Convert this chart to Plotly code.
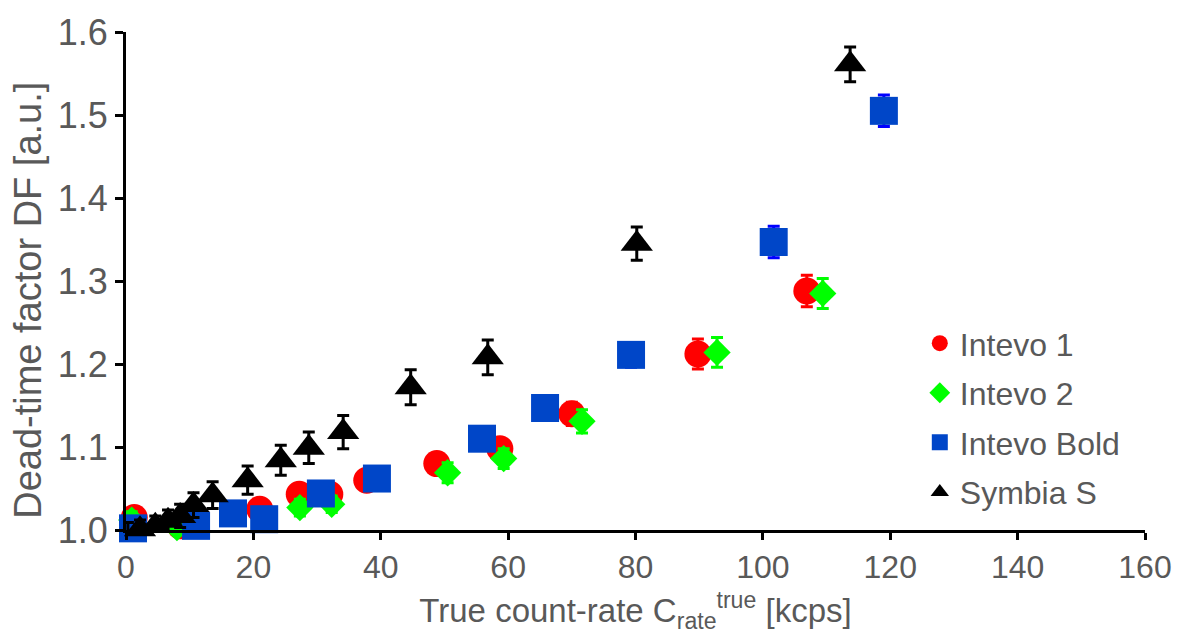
import plotly.graph_objects as go

# Data
intevo1_x = [1.3, 1.8, 8.5, 21.0, 27.2, 32.0, 37.8, 48.8, 58.7, 70.0, 89.8, 106.9]
intevo1_y = [1.015, 0.999, 1.005, 1.025, 1.043, 1.043, 1.060, 1.080, 1.098, 1.140, 1.212, 1.288]
intevo1_err = [0.010, 0.010, 0.010, 0.010, 0.010, 0.010, 0.010, 0.012, 0.012, 0.014, 0.018, 0.019]

intevo2_x = [0.9, 8.0, 27.3, 32.3, 50.5, 59.3, 71.6, 92.8, 109.4]
intevo2_y = [1.012, 1.003, 1.027, 1.031, 1.069, 1.086, 1.131, 1.214, 1.285]
intevo2_err = [0.010, 0.010, 0.010, 0.010, 0.012, 0.012, 0.014, 0.018, 0.018]

bold_x = [1.1, 5.6, 11.0, 16.8, 21.7, 30.6, 39.4, 55.9, 65.8, 79.3, 101.7, 119.0]
bold_y = [1.002, 0.999, 1.005, 1.020, 1.013, 1.044, 1.062, 1.110, 1.147, 1.211, 1.347, 1.505]
bold_err = [0.010, 0.010, 0.010, 0.010, 0.010, 0.012, 0.012, 0.012, 0.014, 0.015, 0.019, 0.019]

symbia_x = [0.3, 2.2, 4.6, 6.6, 8.5, 10.6, 13.6, 19.1, 24.3, 28.7, 34.1, 44.7, 56.8, 80.2, 113.7]
symbia_y = [0.998, 1.001, 1.005, 1.011, 1.017, 1.030, 1.042, 1.060, 1.084, 1.099, 1.118, 1.172, 1.208, 1.345, 1.561]
symbia_err = [0.011, 0.011, 0.012, 0.013, 0.014, 0.015, 0.016, 0.017, 0.018, 0.019, 0.020, 0.021, 0.021, 0.020, 0.021]

x_ticks = [0, 20, 40, 60, 80, 100, 120, 140, 160]
y_ticks = [1.0, 1.1, 1.2, 1.3, 1.4, 1.5, 1.6]

NORMAL = "Liberation Sans, Arial, sans-serif"
GRAY = "#595959"

fig = go.Figure()

def add(name, xs, ys, errs, color, ecolor, symbol, size):
    fig.add_trace(go.Scatter(
        x=xs, y=ys, name=name, mode="markers", cliponaxis=False,
        legendgroup=name,
        marker=dict(color=color, symbol=symbol, size=size, line=dict(width=0)),
        error_y=dict(type="data", array=errs, visible=True, color=ecolor,
                     thickness=3, width=6),
    ))

add("Intevo 1", intevo1_x, intevo1_y, intevo1_err, "#FF0000", "#FF0000", "circle", 27)
add("Intevo 2", intevo2_x, intevo2_y, intevo2_err, "#00FF00", "#00FF00", "diamond", 21)
add("Intevo Bold", bold_x, bold_y, bold_err, "#0046C8", "#0000FF", "square", 28)
add("Symbia S", symbia_x, symbia_y, symbia_err, "#000000", "#000000", "triangle-up", 28)

fig.update_layout(
    width=1184, height=639,
    margin=dict(l=126, r=38, t=22, b=109),
    paper_bgcolor="white", plot_bgcolor="white",
    showlegend=True,
    legend=dict(x=0.779, y=0.43, xanchor="left", yanchor="top",
                font=dict(family=NORMAL, size=32, color=GRAY),
                bgcolor="rgba(0,0,0,0)", itemwidth=30, tracegroupgap=5),
    annotations=[dict(
        text="Dead-time factor DF [a.u.]", textangle=-90,
        xref="paper", yref="paper", x=-0.097, y=0.4606,
        xanchor="center", yanchor="middle", showarrow=False,
        font=dict(family=NORMAL, size=38, color=GRAY),
    )],
)

fig.update_xaxes(
    range=[0, 160], tickvals=x_ticks, ticktext=[str(v) for v in x_ticks],
    showgrid=False, zeroline=False,
    showline=True, linecolor="black", linewidth=3,
    ticks="outside", ticklen=7, tickwidth=3, tickcolor="black",
    tickfont=dict(family=NORMAL, size=32, color=GRAY),
    title=dict(text="True count-rate C<sub>rate</sub><sup>true</sup> [kcps]",
               font=dict(family=NORMAL, size=33, color=GRAY), standoff=15),
)
fig.update_yaxes(
    range=[1.0, 1.6], tickvals=y_ticks, ticktext=[f"{v:.1f}" for v in y_ticks],
    showgrid=False, zeroline=False,
    showline=True, linecolor="black", linewidth=3,
    ticks="outside", ticklen=8, tickwidth=3, tickcolor="black",
    tickfont=dict(family=NORMAL, size=36, color=GRAY),
)

fig.write_html("out.html")
